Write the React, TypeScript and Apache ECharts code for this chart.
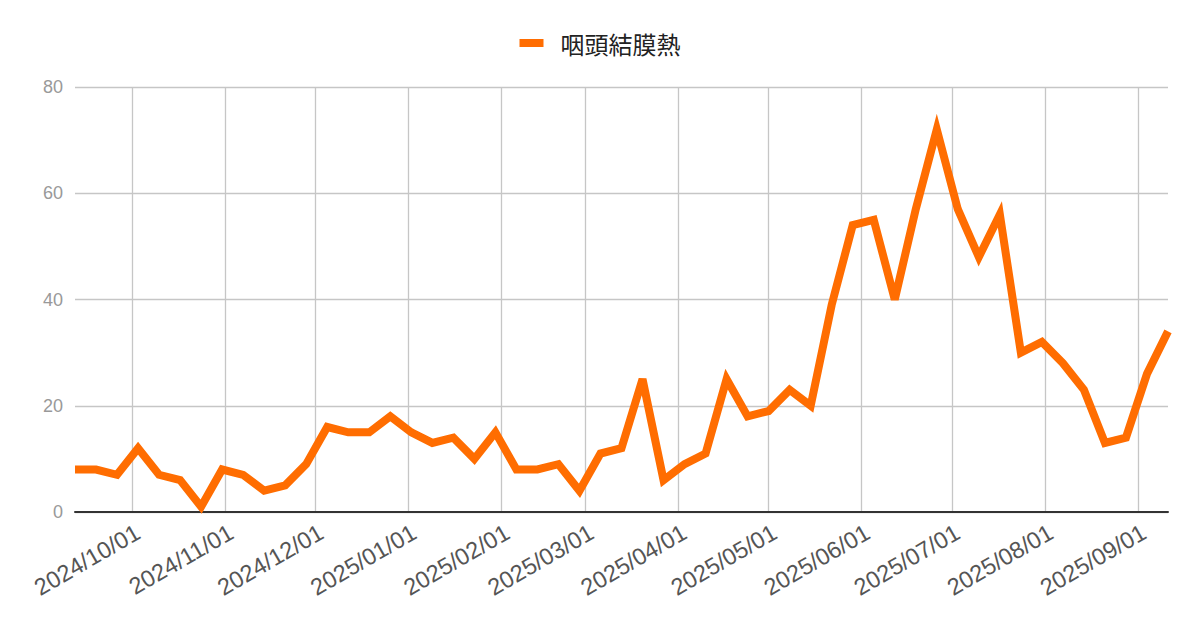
import React, { useEffect, useRef } from 'react'
import * as echarts from 'echarts'

// 週ごとの報告数
const seriesName = '咽頭結膜熱'
const firstWeek = '2024/09/12'
const weeklyValues = [
  8, 8, 7, 12, 7, 6, 1, 8, 7, 4, 5, 9, 16, 15, 15, 18, 15, 13, 14, 10, 15, 8, 8,
  9, 4, 11, 12, 25, 6, 9, 11, 25, 18, 19, 23, 20, 39, 54, 55, 40, 57, 72, 57, 48,
  56, 30, 32, 28, 23, 13, 14, 26, 34,
]
const monthTicks = [
  '2024/10/01', '2024/11/01', '2024/12/01', '2025/01/01', '2025/02/01', '2025/03/01',
  '2025/04/01', '2025/05/01', '2025/06/01', '2025/07/01', '2025/08/01', '2025/09/01',
]
const yTicks = [0, 20, 40, 60, 80]

const DAY = 86400000
const toUtc = (s: string) => {
  const [y, m, d] = s.split('/').map(Number)
  return Date.UTC(y, m - 1, d)
}
const pad = (n: number) => (n < 10 ? '0' + n : '' + n)
const fmt = (t: number) => {
  const d = new Date(t)
  return `${d.getUTCFullYear()}/${pad(d.getUTCMonth() + 1)}/${pad(d.getUTCDate())}`
}

const App: React.FC = () => {
  const chartRef = useRef<HTMLDivElement>(null)

  useEffect(() => {
    if (!chartRef.current) return
    const chart = echarts.init(chartRef.current, null, { renderer: 'svg' })
    const start = toUtc(firstWeek)
    const data = weeklyValues.map((v, i) => [start + i * 7 * DAY, v])
    const ticks = monthTicks.map(toUtc)
    const font = '"Liberation Sans", Arial, Helvetica, sans-serif'
    const gridLine = { color: '#c6c6c6', width: 1.3 }

    chart.setOption({
      animation: false,
      textStyle: { fontFamily: font },
      legend: {
        top: 26,
        left: 'center',
        icon: 'rect',
        itemWidth: 24,
        itemHeight: 8,
        data: [seriesName],
        textStyle: {
          fontFamily: '"Noto Sans CJK JP", "Noto Sans", sans-serif',
          fontSize: 24,
          color: '#222',
          padding: [0, 0, 0, 12],
        },
      },
      grid: {
        left: 75,
        right: 32,
        top: 87,
        bottom: 114,
        outerBoundsMode: 'none',
      },
      xAxis: {
        // 週の日付をミリ秒で置く数値軸、目盛りは各月1日
        type: 'value',
        min: data[0][0],
        max: data[data.length - 1][0],
        axisLine: { show: true, onZero: false, lineStyle: { color: '#333', width: 2 } },
        axisTick: { show: false, customValues: ticks },
        axisLabel: {
          customValues: ticks,
          interval: 0,
          rotate: 30,
          margin: 22,
          padding: [0, -7, 0, 0],
          fontSize: 23.5,
          color: '#555',
          fontFamily: font,
          formatter: (v: number) => fmt(v),
        },
        splitLine: { show: true, lineStyle: gridLine },
      },
      yAxis: {
        type: 'value',
        min: yTicks[0],
        max: yTicks[yTicks.length - 1],
        interval: yTicks[1] - yTicks[0],
        axisLine: { show: false },
        axisTick: { show: false },
        axisLabel: { fontSize: 18, color: '#999', margin: 12, fontFamily: font },
        splitLine: { lineStyle: gridLine },
      },
      series: [
        {
          name: seriesName,
          type: 'line',
          data,
          showSymbol: false,
          symbol: 'none',
          lineStyle: { color: '#ff6d01', width: 8, join: 'miter', miterLimit: 10 },
          itemStyle: { color: '#ff6d01' },
        },
      ],
    })

    return () => {
      chart.dispose()
    }
  }, [])

  return (
    <div
      ref={chartRef}
      style={{ position: 'fixed', left: 0, top: 0, width: 1200, height: 626, background: '#fff' }}
    />
  )
}

export default App
